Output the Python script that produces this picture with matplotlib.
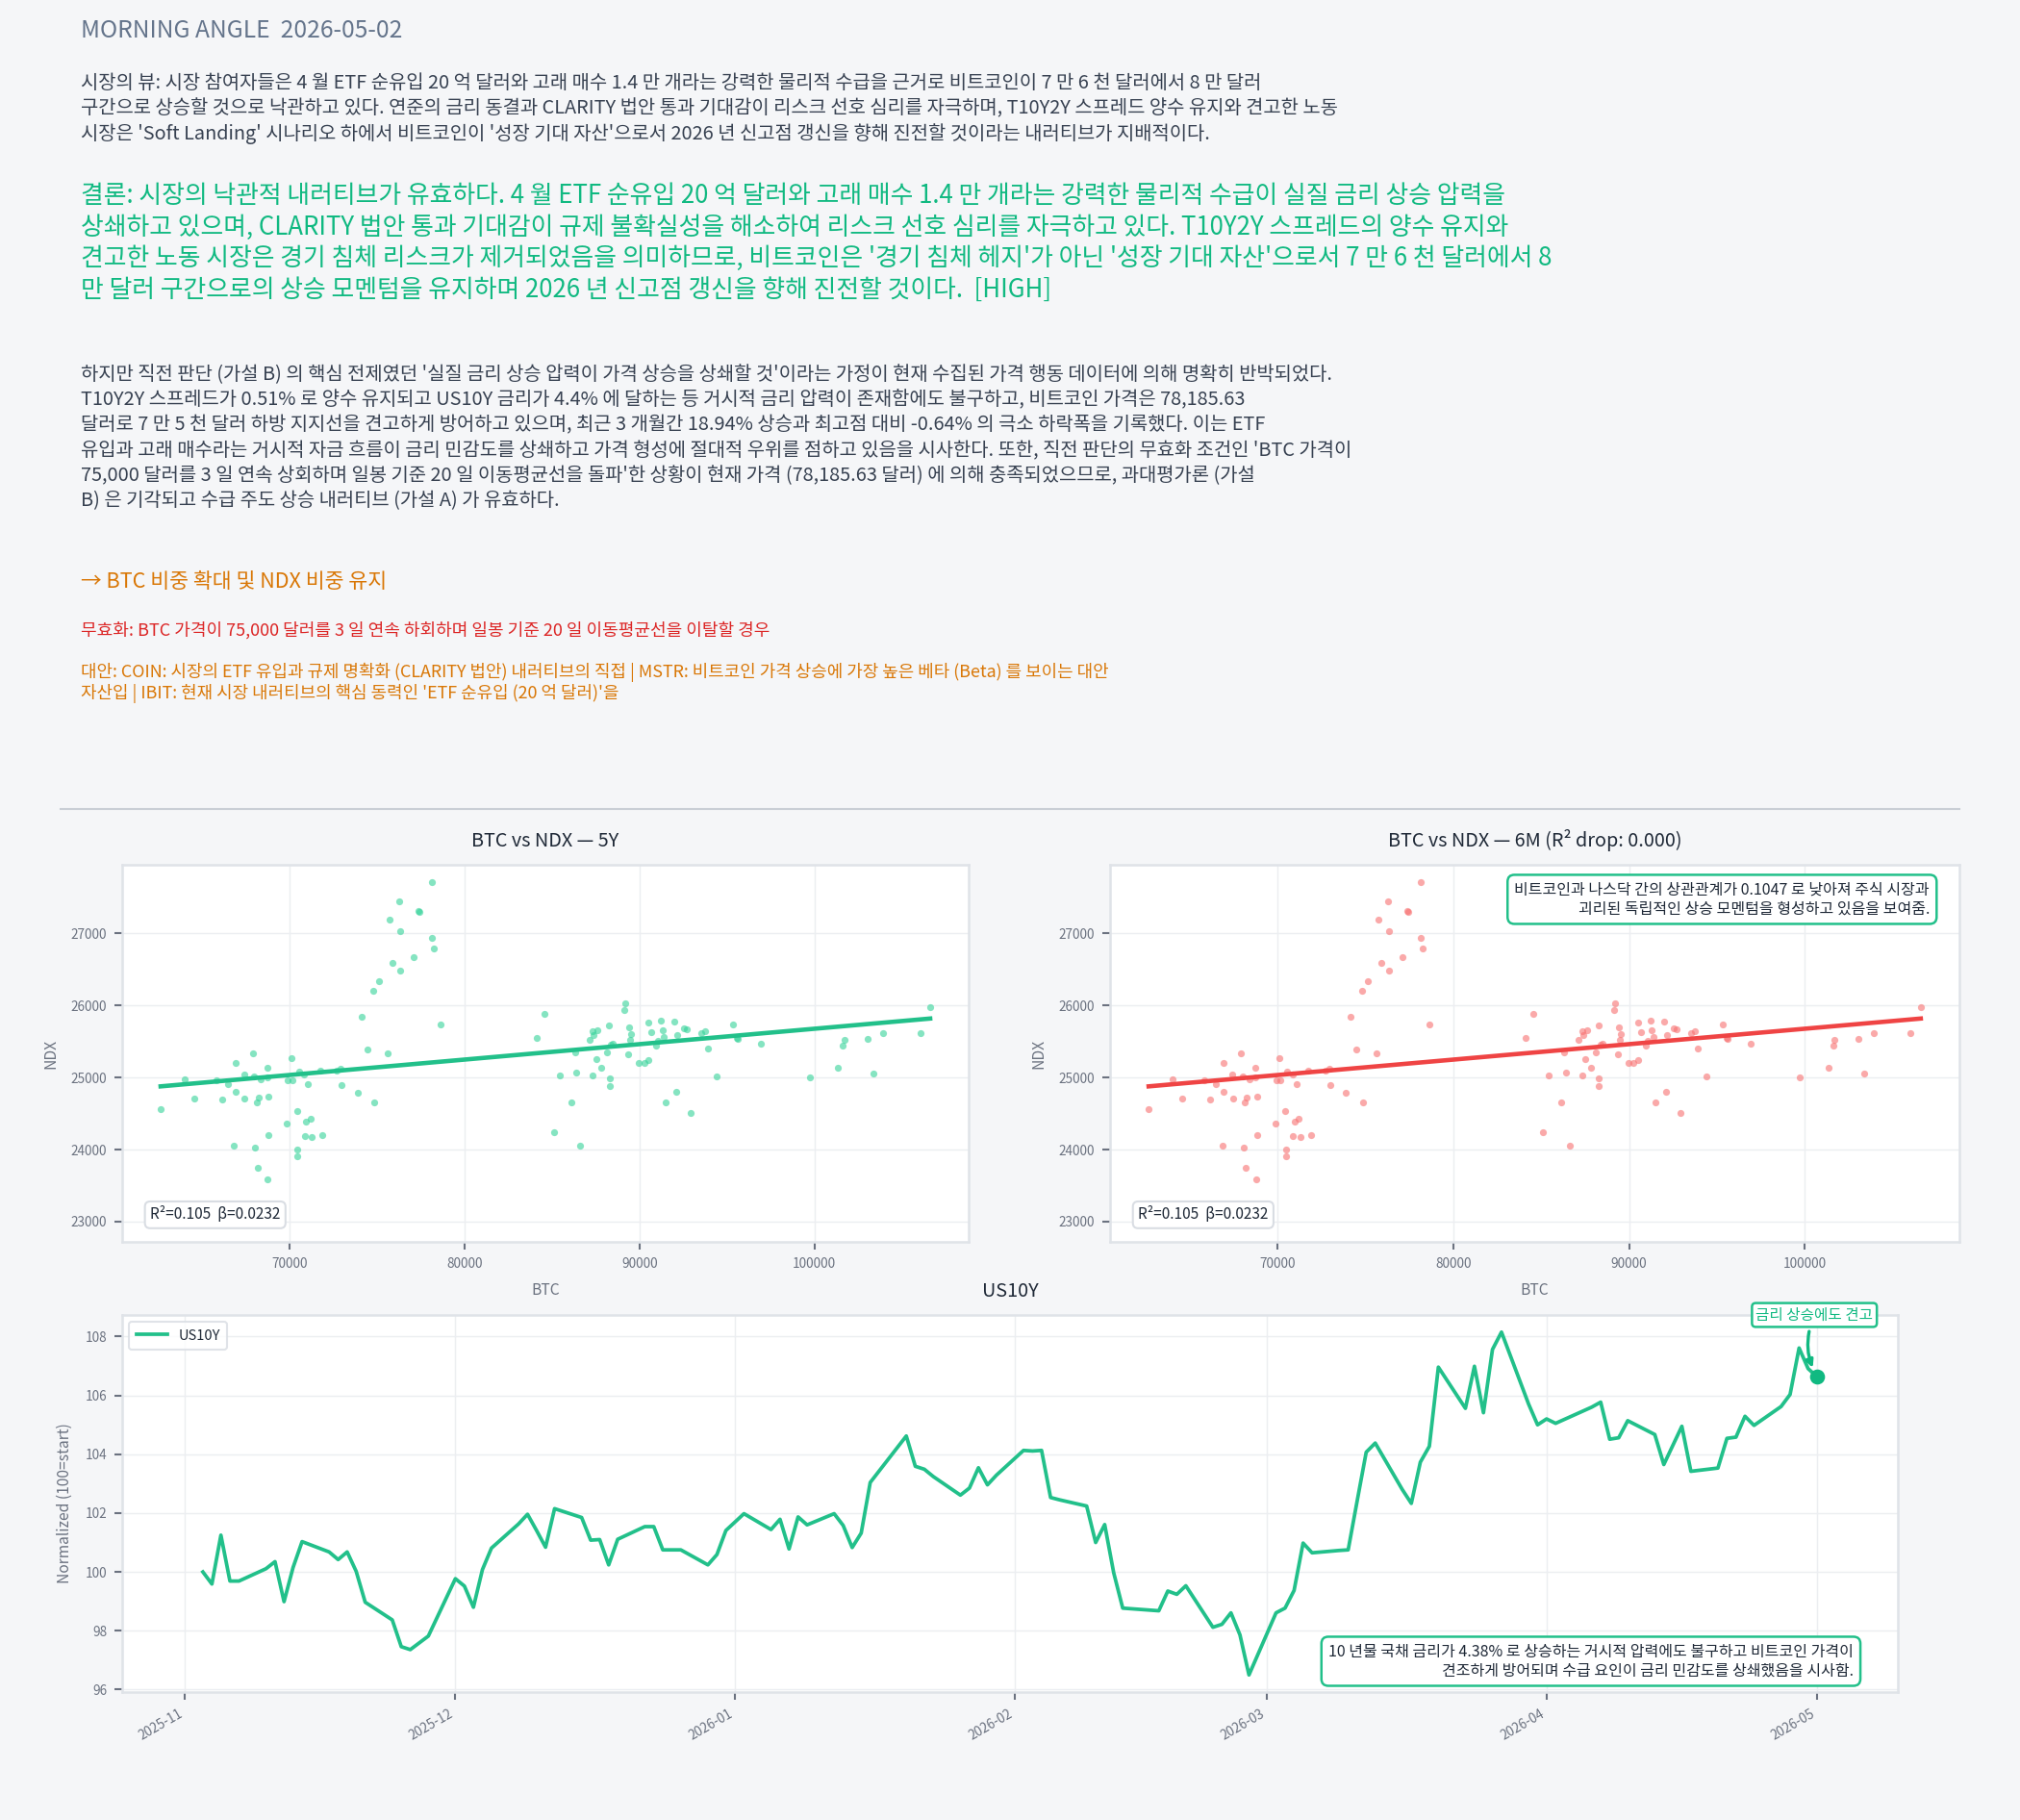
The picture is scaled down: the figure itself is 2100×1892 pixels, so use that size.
import matplotlib
matplotlib.use("Agg")
import matplotlib.pyplot as plt
import matplotlib.dates as mdates
import numpy as np
import pandas as pd

plt.rcParams['font.family'] = ['Noto Sans CJK KR', 'DejaVu Sans']

# ---------------- data ----------------
title_text = "MORNING ANGLE  2026-05-02"
view_lines = [
    "시장의 뷰: 시장 참여자들은 4 월 ETF 순유입 20 억 달러와 고래 매수 1.4 만 개라는 강력한 물리적 수급을 근거로 비트코인이 7 만 6 천 달러에서 8 만 달러",
    "구간으로 상승할 것으로 낙관하고 있다. 연준의 금리 동결과 CLARITY 법안 통과 기대감이 리스크 선호 심리를 자극하며, T10Y2Y 스프레드 양수 유지와 견고한 노동",
    "시장은 'Soft Landing' 시나리오 하에서 비트코인이 '성장 기대 자산'으로서 2026 년 신고점 갱신을 향해 진전할 것이라는 내러티브가 지배적이다.",
]
conclusion_lines = [
    "결론: 시장의 낙관적 내러티브가 유효하다. 4 월 ETF 순유입 20 억 달러와 고래 매수 1.4 만 개라는 강력한 물리적 수급이 실질 금리 상승 압력을",
    "상쇄하고 있으며, CLARITY 법안 통과 기대감이 규제 불확실성을 해소하여 리스크 선호 심리를 자극하고 있다. T10Y2Y 스프레드의 양수 유지와",
    "견고한 노동 시장은 경기 침체 리스크가 제거되었음을 의미하므로, 비트코인은 '경기 침체 헤지'가 아닌 '성장 기대 자산'으로서 7 만 6 천 달러에서 8",
    "만 달러 구간으로의 상승 모멘텀을 유지하며 2026 년 신고점 갱신을 향해 진전할 것이다.  [HIGH]",
]
rebuttal_lines = [
    "하지만 직전 판단 (가설 B) 의 핵심 전제였던 '실질 금리 상승 압력이 가격 상승을 상쇄할 것'이라는 가정이 현재 수집된 가격 행동 데이터에 의해 명확히 반박되었다.",
    "T10Y2Y 스프레드가 0.51% 로 양수 유지되고 US10Y 금리가 4.4% 에 달하는 등 거시적 금리 압력이 존재함에도 불구하고, 비트코인 가격은 78,185.63",
    "달러로 7 만 5 천 달러 하방 지지선을 견고하게 방어하고 있으며, 최근 3 개월간 18.94% 상승과 최고점 대비 -0.64% 의 극소 하락폭을 기록했다. 이는 ETF",
    "유입과 고래 매수라는 거시적 자금 흐름이 금리 민감도를 상쇄하고 가격 형성에 절대적 우위를 점하고 있음을 시사한다. 또한, 직전 판단의 무효화 조건인 'BTC 가격이",
    "75,000 달러를 3 일 연속 상회하며 일봉 기준 20 일 이동평균선을 돌파'한 상황이 현재 가격 (78,185.63 달러) 에 의해 충족되었으므로, 과대평가론 (가설",
    "B) 은 기각되고 수급 주도 상승 내러티브 (가설 A) 가 유효하다.",
]
action_text = "→ BTC 비중 확대 및 NDX 비중 유지"
invalid_text = "무효화: BTC 가격이 75,000 달러를 3 일 연속 하회하며 일봉 기준 20 일 이동평균선을 이탈할 경우"
alt_lines = [
    "대안: COIN: 시장의 ETF 유입과 규제 명확화 (CLARITY 법안) 내러티브의 직접 | MSTR: 비트코인 가격 상승에 가장 높은 베타 (Beta) 를 보이는 대안",
    "자산입 | IBIT: 현재 시장 내러티브의 핵심 동력인 'ETF 순유입 (20 억 달러)'을",
]

btc = [62650, 64027, 64564, 65839, 66174, 66500, 66846, 66913, 66913, 66611,
       67416, 67450, 67919, 67987, 68054, 68121, 68188, 68255, 68389, 68725,
       68725, 68758, 68826, 68826, 69866, 69899, 70101, 70168, 70436, 70470,
       70470, 70537, 70872, 70940, 71074, 71208, 71275, 70850, 71745, 71879,
       72718, 72953, 72987, 73893, 74128, 74463, 74799, 74866, 75134, 75604,
       75738, 75872, 76275, 76309, 76342, 77081, 77383, 77420, 78121, 78154,
       78255, 78658, 84128, 84564, 85101, 85436, 86141, 86309, 86409, 86611,
       87148, 87315, 87383, 87349, 87517, 87617, 87819, 88121, 88255, 88289,
       88289, 88389, 88490, 89128, 89195, 89362, 89396, 89463, 89530, 89966,
       90268, 90537, 90537, 90671, 90940, 91040, 91208, 91309, 91376, 91477,
       92013, 92081, 92148, 92550, 92685, 92953, 93557, 93758, 93893, 94430,
       95336, 95570, 95604, 96946, 99732, 101342, 101611, 101711, 103054, 103389,
       103926, 106040, 106611]
ndx = [24556, 24982, 24711, 24964, 24693, 24910, 24049, 25204, 24800, 22956,
       25040, 24707, 25333, 25022, 24027, 24649, 23742, 24724, 24973, 25133,
       25000, 23591, 24738, 24196, 24356, 24964, 25271, 24964, 24538, 24004,
       23902, 25084, 24191, 24387, 24907, 24431, 24169, 25036, 25089, 24204,
       25102, 25124, 24893, 24782, 25844, 25387, 26209, 24658, 26338, 25342,
       27191, 26591, 27453, 27031, 26484, 26676, 27307, 27300, 27716, 26942,
       26787, 25742, 25556, 25889, 24244, 25027, 24653, 25351, 25071, 24058,
       25529, 25649, 25591, 25027, 25253, 25662, 25138, 25351, 25720, 24991,
       24876, 25458, 25476, 25942, 26031, 25324, 25698, 25520, 25609, 25209,
       25204, 25240, 25769, 25631, 25440, 25516, 25791, 25662, 25560, 24649,
       25778, 24804, 25587, 25689, 25676, 24511, 25613, 25644, 25404, 25013,
       25742, 25556, 25533, 25467, 24996, 25133, 25440, 25520, 25533, 25062,
       25622, 25613, 25973]

us10y_dates = [
    "2025-11-03", "2025-11-04", "2025-11-05", "2025-11-06", "2025-11-07",
    "2025-11-10", "2025-11-11", "2025-11-12", "2025-11-13", "2025-11-14",
    "2025-11-17", "2025-11-18", "2025-11-19", "2025-11-20", "2025-11-21",
    "2025-11-24", "2025-11-25", "2025-11-26", "2025-11-28",
    "2025-12-01", "2025-12-02", "2025-12-03", "2025-12-04", "2025-12-05",
    "2025-12-08", "2025-12-09", "2025-12-10", "2025-12-11", "2025-12-12",
    "2025-12-15", "2025-12-16", "2025-12-17", "2025-12-18", "2025-12-19",
    "2025-12-22", "2025-12-23", "2025-12-24", "2025-12-26",
    "2025-12-29", "2025-12-30", "2025-12-31", "2026-01-02",
    "2026-01-05", "2026-01-06", "2026-01-07", "2026-01-08", "2026-01-09",
    "2026-01-12", "2026-01-13", "2026-01-14", "2026-01-15", "2026-01-16",
    "2026-01-20", "2026-01-21", "2026-01-22", "2026-01-23",
    "2026-01-26", "2026-01-27", "2026-01-28", "2026-01-29", "2026-01-30",
    "2026-02-02", "2026-02-03", "2026-02-04", "2026-02-05", "2026-02-06",
    "2026-02-09", "2026-02-10", "2026-02-11", "2026-02-12", "2026-02-13",
    "2026-02-17", "2026-02-18", "2026-02-19", "2026-02-20",
    "2026-02-23", "2026-02-24", "2026-02-25", "2026-02-26", "2026-02-27",
    "2026-03-02", "2026-03-03", "2026-03-04", "2026-03-05", "2026-03-06",
    "2026-03-09", "2026-03-10", "2026-03-11", "2026-03-12", "2026-03-13",
    "2026-03-16", "2026-03-17", "2026-03-18", "2026-03-19", "2026-03-20",
    "2026-03-23", "2026-03-24", "2026-03-25", "2026-03-26", "2026-03-27",
    "2026-03-30", "2026-03-31", "2026-04-01", "2026-04-02",
    "2026-04-06", "2026-04-07", "2026-04-08", "2026-04-09", "2026-04-10",
    "2026-04-13", "2026-04-14", "2026-04-15", "2026-04-16", "2026-04-17",
    "2026-04-20", "2026-04-21", "2026-04-22", "2026-04-23", "2026-04-24",
    "2026-04-27", "2026-04-28", "2026-04-29", "2026-04-30", "2026-05-01",
]
us10y_values = [
    100.00, 99.59, 101.25, 99.69, 99.69,
    100.11, 100.35, 98.99, 100.15, 101.03,
    100.68, 100.42, 100.68, 100.02, 98.97,
    98.37, 97.46, 97.36, 97.82,
    99.77, 99.52, 98.80, 100.08, 100.81,
    101.63, 101.96, 101.41, 100.84, 102.15,
    101.85, 101.08, 101.10, 100.24, 101.11,
    101.54, 101.54, 100.75, 100.75,
    100.24, 100.59, 101.41, 101.98,
    101.44, 101.79, 100.78, 101.87, 101.60,
    101.98, 101.58, 100.83, 101.32, 103.04,
    104.62, 103.59, 103.49, 103.24,
    102.61, 102.85, 103.54, 102.96, 103.29,
    104.13, 104.11, 104.13, 102.53, 102.45,
    102.24, 101.00, 101.61, 99.97, 98.77,
    98.68, 99.35, 99.24, 99.53,
    98.12, 98.22, 98.61, 97.86, 96.50,
    98.61, 98.77, 99.37, 100.98, 100.65,
    100.73, 100.75, 102.42, 104.07, 104.38,
    102.80, 102.33, 103.73, 104.27, 106.96,
    105.56, 106.99, 105.41, 107.56, 108.15,
    105.71, 105.00, 105.20, 105.05,
    105.60, 105.77, 104.51, 104.56, 105.14,
    104.67, 103.65, 104.30, 104.95, 103.42,
    103.53, 104.54, 104.58, 105.29, 104.98,
    105.62, 106.03, 107.61, 106.91, 106.63,
]

stats_text = "R²=0.105  β=0.0232"
title_5y = "BTC vs NDX — 5Y"
title_6m = "BTC vs NDX — 6M (R² drop: 0.000)"
note_6m = "비트코인과 나스닥 간의 상관관계가 0.1047 로 낮아져 주식 시장과\n괴리된 독립적인 상승 모멘텀을 형성하고 있음을 보여줌."
note_us10y = "10 년물 국채 금리가 4.38% 로 상승하는 거시적 압력에도 불구하고 비트코인 가격이\n견조하게 방어되며 수급 요인이 금리 민감도를 상쇄했음을 시사함."
tag_us10y = "금리 상승에도 견고"

# ---------------- style ----------------
BG = '#f5f6f8'
GREEN = '#10b981'
LINE_GREEN = '#22c08a'
RED = '#ef4444'
ORANGE = '#d97706'
DARK = '#374151'
GREY = '#6b7280'
SPINE = '#dfe3e8'
GRID = '#eceef1'

W, H = 2100, 1892
DPI = 150
fig = plt.figure(figsize=(W / DPI, H / DPI), dpi=DPI, facecolor=BG)


def fy(px):
    return 1 - px / H


X0 = 84 / W
fig.text(X0, fy(32), title_text, fontsize=11.8, color='#64748b', va='center', ha='left')
for i, line in enumerate(view_lines):
    fig.text(X0, fy(86 + i * 26.6), line, fontsize=9.55, color=DARK, va='center', ha='left')
for i, line in enumerate(conclusion_lines):
    fig.text(X0, fy(203.5 + i * 32.5), line, fontsize=12.4, color=GREEN, va='center', ha='left')
for i, line in enumerate(rebuttal_lines):
    fig.text(X0, fy(389.5 + i * 26.3), line, fontsize=9.55, color=DARK, va='center', ha='left')
fig.text(X0, fy(605), action_text, fontsize=10.4, color=ORANGE, va='center', ha='left')
fig.text(X0, fy(655), invalid_text, fontsize=8.7, color='#dc2626', va='center', ha='left')
for i, line in enumerate(alt_lines):
    fig.text(X0, fy(699 + i * 21.8), line, fontsize=8.6, color=ORANGE, va='center', ha='left')

fig.add_artist(plt.Line2D([63 / W, 2037 / W], [fy(841), fy(841)], color='#c9ced5', lw=1.0))


def style_axes(ax):
    ax.set_facecolor('white')
    for s in ax.spines.values():
        s.set_color(SPINE)
        s.set_linewidth(1.2)
    ax.grid(True, color=GRID, lw=0.7)
    ax.set_axisbelow(True)
    ax.tick_params(colors=GREY, labelsize=6.5, length=4, width=1)
    for lab in ax.get_xticklabels() + ax.get_yticklabels():
        lab.set_color(GREY)


btc_a = np.array(btc, dtype=float)
ndx_a = np.array(ndx, dtype=float)
slope, intercept = np.polyfit(btc_a, ndx_a, 1)
xfit = np.array([btc_a.min(), btc_a.max()])


def scatter_panel(rect, title, pt_color, line_color):
    ax = fig.add_axes(rect)
    ax.scatter(btc_a, ndx_a, s=12, color=pt_color, alpha=0.6, linewidths=0, zorder=2)
    ax.plot(xfit, slope * xfit + intercept, color=line_color, lw=2.2, zorder=3)
    ax.set_title(title, fontsize=9.5, color='#1f2937', pad=9)
    ax.set_xlabel("BTC", fontsize=7.5, color=GREY, labelpad=6)
    ax.set_ylabel("NDX", fontsize=7.5, color=GREY, labelpad=6)
    ax.set_yticks([23000, 24000, 25000, 26000, 27000])
    ax.set_xticks([70000, 80000, 90000, 100000])
    style_axes(ax)
    ax.text(0.033, 0.05, stats_text, transform=ax.transAxes, fontsize=7.4, color='#1f2937',
            ha='left', va='bottom', zorder=5,
            bbox=dict(boxstyle='round,pad=0.35', fc='white', ec='#d9dde3', lw=1))
    return ax


axh = 392 / H
ax1 = scatter_panel([127 / W, fy(1291), 880 / W, axh], title_5y, '#34d399', LINE_GREEN)
ax2 = scatter_panel([1154 / W, fy(1291), 883 / W, axh], title_6m, '#f87171', RED)
ax2.text(0.965, 0.955, note_6m, transform=ax2.transAxes, fontsize=7.7, color='#1f2937',
         ha='right', va='top', multialignment='right', zorder=5, linespacing=1.2,
         bbox=dict(boxstyle='round,pad=0.45', fc='white', ec=LINE_GREEN, lw=1.2))

# ---------------- US10Y ----------------
dates = pd.to_datetime(us10y_dates)
vals = np.array(us10y_values)
ax3 = fig.add_axes([127 / W, fy(1759), 1846 / W, axh])
ax3.plot(dates, vals, color=LINE_GREEN, lw=1.8, label="US10Y", zorder=3)
ax3.plot(dates[-1:], vals[-1:], 'o', color=GREEN, ms=6.5, zorder=4)
ax3.set_title("US10Y", fontsize=9.5, color='#1f2937', pad=9)
ax3.set_ylabel("Normalized (100=start)", fontsize=7.5, color=GREY, labelpad=6)
ax3.set_yticks([96, 98, 100, 102, 104, 106, 108])
ax3.xaxis.set_major_locator(mdates.MonthLocator())
ax3.xaxis.set_major_formatter(mdates.DateFormatter('%Y-%m'))
style_axes(ax3)
ax3.tick_params(axis='x', labelsize=6.5)
for lab in ax3.get_xticklabels():
    lab.set_rotation(30)
    lab.set_ha('right')
leg = ax3.legend(loc='upper left', fontsize=7, frameon=True, fancybox=True,
                 borderpad=0.5, handlelength=2.2)
leg.get_frame().set_edgecolor('#d9dde3')
leg.get_frame().set_facecolor('white')
for t in leg.get_texts():
    t.set_color('#1f2937')

ylo, yhi = ax3.get_ylim()
ax3.annotate(tag_us10y, xy=(dates[-1], vals[-1]),
             xytext=(dates[-1] - pd.Timedelta(days=0.3), yhi), textcoords='data',
             fontsize=7.5, color=GREEN, ha='center', va='center', zorder=6,
             annotation_clip=False,
             bbox=dict(boxstyle='round,pad=0.25', fc='white', ec=LINE_GREEN, lw=1.2),
             arrowprops=dict(arrowstyle='-|>', color=GREEN, lw=1.6,
                             connectionstyle='arc3,rad=0.25', shrinkA=2, shrinkB=5))
ax3.text(0.975, 0.035, note_us10y, transform=ax3.transAxes, fontsize=7.7, color='#1f2937',
         ha='right', va='bottom', multialignment='right', zorder=5, linespacing=1.2,
         bbox=dict(boxstyle='round,pad=0.45', fc='white', ec=LINE_GREEN, lw=1.2))

fig.savefig("out.png", dpi=DPI, facecolor=BG)
